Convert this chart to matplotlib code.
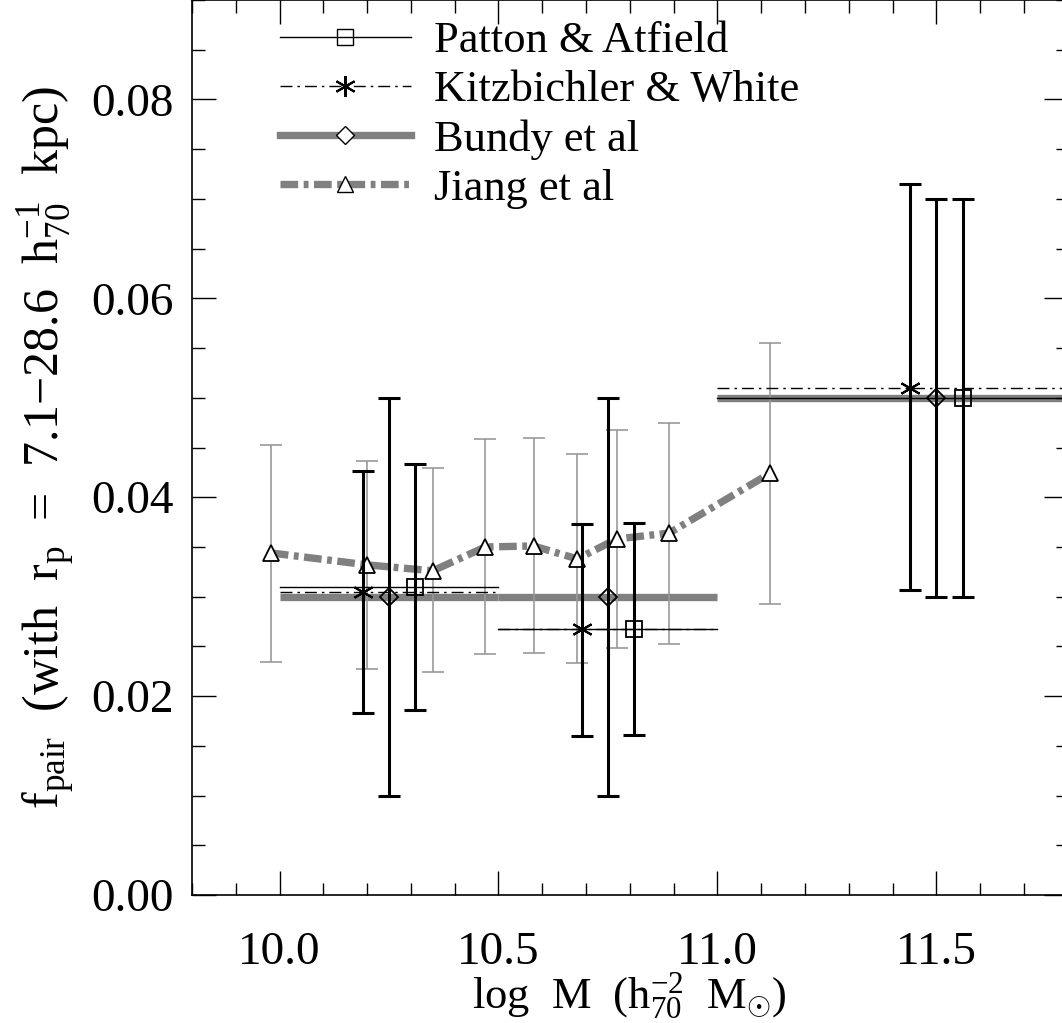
import matplotlib
matplotlib.use('Agg')
import matplotlib.pyplot as plt
from matplotlib.lines import Line2D
import numpy as np

plt.rcParams['font.family'] = 'Liberation Serif'
plt.rcParams['mathtext.fontset'] = 'custom'
plt.rcParams['mathtext.rm'] = 'Liberation Serif'
plt.rcParams['mathtext.it'] = 'Liberation Serif:italic'

# mass bins (log M)
bin_lo = np.array([10.0, 10.5, 11.0])
bin_hi = np.array([10.5, 11.0, 12.0])

# Patton & Atfield
pa_x = np.array([10.31, 10.81, 11.56])
pa_y = np.array([0.0310, 0.0267, 0.0500])
pa_lo = np.array([0.0186, 0.0161, 0.0300])
pa_hi = np.array([0.0433, 0.0374, 0.0700])

# Kitzbichler & White
kw_x = np.array([10.19, 10.69, 11.44])
kw_y = np.array([0.0305, 0.0267, 0.0510])
kw_lo = np.array([0.0183, 0.0160, 0.0307])
kw_hi = np.array([0.0426, 0.0373, 0.0715])

# Bundy et al
bu_x = np.array([10.25, 10.75, 11.50])
bu_y = np.array([0.030, 0.030, 0.050])
bu_lo = np.array([0.010, 0.010, 0.030])
bu_hi = np.array([0.050, 0.050, 0.070])

# Jiang et al
ji_x = np.array([9.98, 10.20, 10.35, 10.47, 10.58, 10.68, 10.77, 10.89, 11.12])
ji_y = np.array([0.0344, 0.0332, 0.0326, 0.0350, 0.0351, 0.0338, 0.0358, 0.0364, 0.0424])
ji_lo = np.array([0.0234, 0.0227, 0.0224, 0.0242, 0.0243, 0.0233, 0.0248, 0.0252, 0.0293])
ji_hi = np.array([0.0453, 0.0436, 0.0429, 0.0459, 0.0460, 0.0443, 0.0468, 0.0475, 0.0555])

gray = '#808080'
kw_dash = (0, (8.6, 3.6, 1.8, 3.6))
ji_dash = (0, (2.4, 0.75, 0.65, 0.75))

fig = plt.figure(figsize=(10.62, 10.23), dpi=100)
ax = fig.add_axes([0.1808, 0.1251, 0.8245, 0.8749])

# bin-wide horizontal levels
for lo, hi, y in zip(bin_lo, bin_hi, bu_y):
    ax.plot([lo, hi], [y, y], color=gray, lw=5.3, solid_capstyle='butt', zorder=1)
for lo, hi, y in zip(bin_lo, bin_hi, pa_y):
    ax.plot([lo, hi], [y, y], color='k', lw=1.0, zorder=3)
for lo, hi, y in zip(bin_lo, bin_hi, kw_y):
    ax.plot([lo, hi], [y, y], color='k', lw=1.0, ls=kw_dash, zorder=3)

# Jiang curve with thin grey bars
ax.plot(ji_x, ji_y, color=gray, lw=5.3, ls=ji_dash, zorder=2)
ax.errorbar(ji_x, ji_y, yerr=[ji_y - ji_lo, ji_hi - ji_y], fmt='none',
            ecolor='#999999', elinewidth=1.2, capsize=8, capthick=1.2, zorder=2)
ax.plot(ji_x, ji_y, ls='none', marker='^', ms=12, mfc='white', mec='k', mew=1.3, zorder=4)

# black error bars of the three binned samples
for x, y, lo, hi in [(pa_x, pa_y, pa_lo, pa_hi), (kw_x, kw_y, kw_lo, kw_hi),
                     (bu_x, bu_y, bu_lo, bu_hi)]:
    ax.errorbar(x, y, yerr=[y - lo, hi - y], fmt='none', ecolor='k',
                elinewidth=2.2, capsize=8, capthick=2.2, zorder=5)

ax.plot(pa_x, pa_y, ls='none', marker='s', ms=11, mfc='none', mec='k', mew=1.3, zorder=6)
ax.plot(kw_x, kw_y, ls='none', marker=(6, 2, 0), ms=15, mec='k', mew=1.5, zorder=6)
ax.plot(bu_x, bu_y, ls='none', marker='D', ms=9, mfc='none', mec='k', mew=1.3, zorder=6)

ax.set_xlim(9.8, 11.8)
ax.set_ylim(0.0, 0.09)
ax.set_xticks([10.0, 10.5, 11.0, 11.5])
ax.set_xticklabels(['10.0', '10.5', '11.0', '11.5'])
ax.set_xticks(np.arange(9.8, 11.81, 0.1), minor=True)
ax.set_yticks([0.0, 0.02, 0.04, 0.06, 0.08])
ax.set_yticklabels(['0.00', '0.02', '0.04', '0.06', '0.08'])
ax.set_yticks(np.arange(0.0, 0.0901, 0.005), minor=True)
ax.tick_params(which='both', direction='in', top=True, right=True, width=1.0)
ax.tick_params(which='major', length=17, labelsize=34)
ax.tick_params(which='minor', length=9)
ax.tick_params(axis='x', which='major', pad=26)
ax.tick_params(axis='y', which='major', pad=13)
for s in ax.spines.values():
    s.set_linewidth(1.2)

ax.set_xlabel(r'log  M  (h$_{70}^{-2}$  M$_{\odot}$)', fontsize=32)
ax.xaxis.set_label_coords(0.5, -0.113)
ax.xaxis.label.set_va('center')
ax.set_ylabel(r'f$_{\rm pair}$  (with  r$_{\rm p}$  =  7.1$-$28.6  h$_{70}^{-1}$  kpc)',
              fontsize=36, labelpad=10)

handles = [
    Line2D([], [], color='k', lw=1.0, marker='s', ms=11, mfc='none', mec='k'),
    Line2D([], [], color='k', lw=1.0, ls=kw_dash, marker=(6, 2, 0), ms=15, mec='k', mew=1.5),
    Line2D([], [], color=gray, lw=5.3, marker='D', ms=9, mfc='white', mec='k'),
    Line2D([], [], color=gray, lw=5.3, ls=ji_dash, marker='^', ms=12, mfc='white', mec='k'),
]
labels = ['Patton & Atfield', 'Kitzbichler & White', 'Bundy et al', 'Jiang et al']
ax.legend(handles, labels, loc='upper left', bbox_to_anchor=(0.080, 0.996),
          frameon=False, fontsize=32, numpoints=1, handlelength=2.95,
          handletextpad=0.52, labelspacing=0.2, borderaxespad=0.0)

fig.savefig('out.png', dpi=100)
